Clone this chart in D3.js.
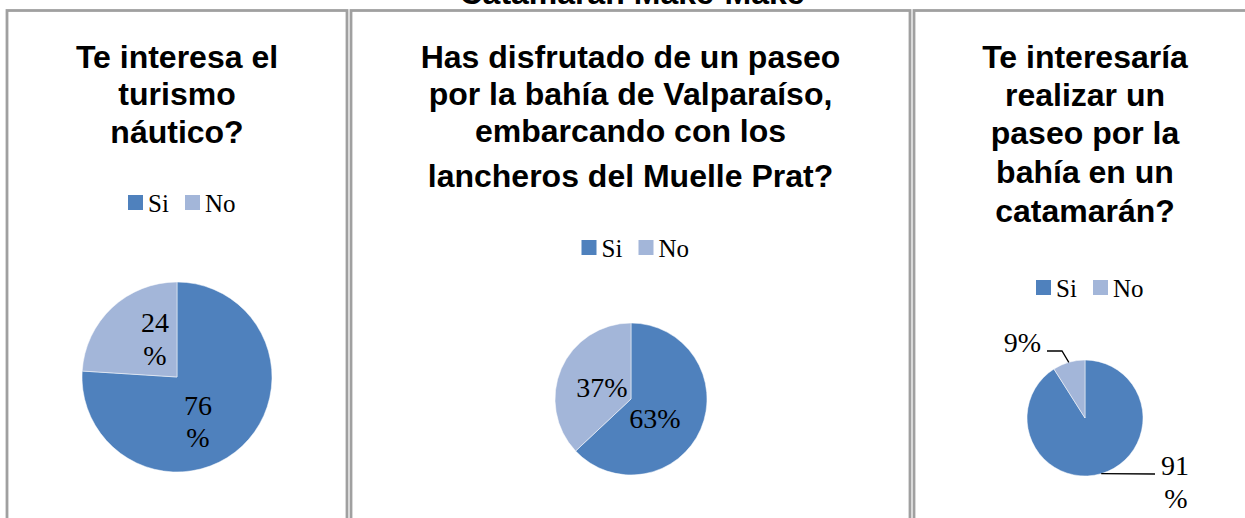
<!DOCTYPE html>
<html>
<head>
<meta charset="utf-8">
<script src="https://cdn.jsdelivr.net/npm/d3@7"></script>
<style>
  html, body { margin: 0; padding: 0; background: #fff; }
  svg { display: block; }
</style>
</head>
<body>
<svg id="chart" width="1245" height="518"></svg>
<script>
// Survey answers: three yes/no questions about nautical tourism in Valparaíso
const chartTitle = "Catamarán Make-Make";
const categories = ["Si", "No"];
const questions = [
  ["Te interesa el", "turismo", "náutico?"],
  ["Has disfrutado de un paseo", "por la bahía de Valparaíso,", "embarcando con los", "lancheros del Muelle Prat?"],
  ["Te interesaría", "realizar un", "paseo por la", "bahía en un", "catamarán?"]
];
const siValues = [76, 63, 91];
const noValues = [24, 37, 9];

const colors = d3.scaleOrdinal().domain(categories).range(["#4F81BD", "#A3B6D9"]);

// Panel geometry and label placement (offsets relative to pie centre)
const panels = [
  { x0: 7, x1: 347, titleY: [68, 105, 143], legendY: 195, cx: 177, cy: 377, r: 95,
    labels: [
      { dx: 21, lines: [415, 447], split: true },
      { dx: -22, lines: [332, 365], split: true }
    ] },
  { x0: 351, x1: 910, titleY: [68, 105, 142, 187], legendY: 240, cx: 631, cy: 399, r: 76,
    labels: [
      { dx: 24, lines: [428], split: false },
      { dx: -29, lines: [397], split: false }
    ] },
  { x0: 914, x1: 1256, titleY: [68, 106, 144, 183, 222], legendY: 280, cx: 1085, cy: 418, r: 58,
    labels: [
      { leader: true, side: "right", lineY: 474, lineX: 1155, tx: 1161, lines: [475, 508], split: true, pctX: 1176 },
      { leader: true, side: "left", lineY: 351, elbowX: 1062, lineX: 1047, tx: 1041, lines: [352], split: false }
    ] }
];

const svg = d3.select("#chart");

// Overall heading, partly cut off at the top edge
svg.append("text")
  .attr("x", 632).attr("y", 4)
  .attr("text-anchor", "middle")
  .attr("font-family", "Liberation Sans, Arial, sans-serif")
  .attr("font-weight", "bold")
  .attr("font-size", 32)
  .attr("fill", "#000")
  .text(chartTitle);

const pie = d3.pie().sort(null).value(d => d.value);
const arc = d3.arc().innerRadius(0);

panels.forEach((p, i) => {
  const g = svg.append("g");

  // Panel frame
  g.append("rect")
    .attr("x", p.x0).attr("y", 10.5)
    .attr("width", p.x1 - p.x0).attr("height", 560)
    .attr("fill", "#fff")
    .attr("stroke", "#a0a0a0")
    .attr("stroke-width", 2.8);

  const midX = (p.x0 + p.x1) / 2;

  // Question title
  g.selectAll("text.title")
    .data(questions[i])
    .join("text")
    .attr("class", "title")
    .attr("x", midX)
    .attr("y", (d, k) => p.titleY[k])
    .attr("text-anchor", "middle")
    .attr("font-family", "Liberation Sans, Arial, sans-serif")
    .attr("font-weight", "bold")
    .attr("font-size", 32)
    .attr("fill", "#000")
    .text(d => d);

  // Legend
  const legendW = 108;
  const lx = midX + 5 - legendW / 2;
  const legend = g.append("g").attr("transform", `translate(${lx},${p.legendY})`);
  const items = legend.selectAll("g")
    .data(categories)
    .join("g")
    .attr("transform", (d, k) => `translate(${k * 57},0)`);
  items.append("rect")
    .attr("width", 15).attr("height", 15)
    .attr("fill", d => colors(d));
  items.append("text")
    .attr("x", 20).attr("y", 17)
    .attr("font-family", "Liberation Serif, Times New Roman, serif")
    .attr("font-size", 25)
    .attr("fill", "#000")
    .text(d => d);

  // Pie
  const data = categories.map((c, k) => ({ cat: c, value: k === 0 ? siValues[i] : noValues[i] }));
  const arcs = pie(data);
  arc.outerRadius(p.r);
  const pg = g.append("g").attr("transform", `translate(${p.cx},${p.cy})`);
  pg.selectAll("path")
    .data(arcs)
    .join("path")
    .attr("d", arc)
    .attr("fill", d => colors(d.data.cat))
    .attr("stroke", "#fff")
    .attr("stroke-width", 0.5);

  // Data labels
  arcs.forEach((a, k) => {
    const lab = p.labels[k];
    const val = a.data.value;
    const parts = lab.split ? [String(val), "%"] : [val + "%"];
    const font = t => t
      .attr("font-family", "Liberation Serif, Times New Roman, serif")
      .attr("font-size", 28)
      .attr("fill", "#000");

    if (!lab.leader) {
      parts.forEach((s, m) => {
        g.append("text")
          .attr("x", p.cx + lab.dx)
          .attr("y", lab.lines[m])
          .attr("text-anchor", "middle")
          .call(font)
          .text(s);
      });
      return;
    }

    // Leader line from the slice edge to its outside label
    const mid = (a.startAngle + a.endAngle) / 2;
    const [ex, ey] = d3.pointRadial(mid, p.r);
    const pts = lab.side === "left"
      ? [[p.cx + ex, p.cy + ey], [lab.elbowX, lab.lineY], [lab.lineX, lab.lineY]]
      : [[p.cx + ex, p.cy + ey], [lab.lineX, lab.lineY]];
    g.append("path")
      .attr("d", d3.line()(pts))
      .attr("fill", "none")
      .attr("stroke", "#000")
      .attr("stroke-width", 1.3);

    if (lab.side === "left") {
      g.append("text")
        .attr("x", lab.tx).attr("y", lab.lines[0])
        .attr("text-anchor", "end")
        .call(font)
        .text(parts[0]);
    } else {
      g.append("text")
        .attr("x", lab.tx).attr("y", lab.lines[0])
        .attr("text-anchor", "start")
        .call(font)
        .text(parts[0]);
      g.append("text")
        .attr("x", lab.pctX).attr("y", lab.lines[1])
        .attr("text-anchor", "middle")
        .call(font)
        .text(parts[1]);
    }
  });
});
</script>
</body>
</html>
